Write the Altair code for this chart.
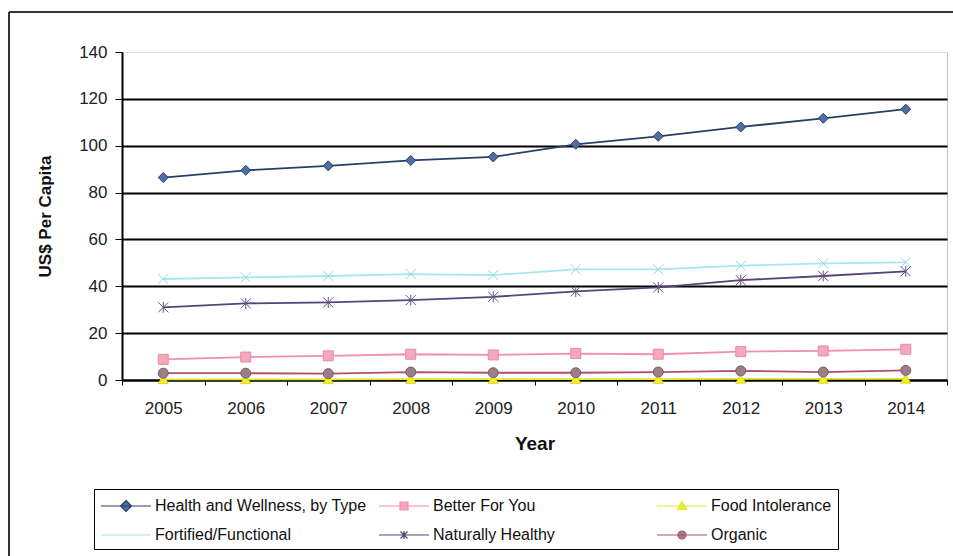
import altair as alt
import pandas as pd

years = ["2005", "2006", "2007", "2008", "2009", "2010", "2011", "2012", "2013", "2014"]
series = ["Health and Wellness, by Type", "Better For You", "Food Intolerance",
          "Fortified/Functional", "Naturally Healthy", "Organic"]

health = [86.4, 89.5, 91.4, 93.7, 95.2, 100.6, 104.0, 108.0, 111.7, 115.6]
better = [8.8, 9.8, 10.3, 11.0, 10.7, 11.3, 11.0, 12.1, 12.4, 13.1]
food_int = [0.3, 0.3, 0.3, 0.4, 0.4, 0.4, 0.4, 0.5, 0.5, 0.5]
fortified = [43.1, 43.8, 44.4, 45.2, 44.8, 47.2, 47.2, 48.8, 49.8, 50.2]
naturally = [31.0, 32.7, 33.1, 34.1, 35.5, 37.8, 39.5, 42.6, 44.4, 46.4]
organic = [2.9, 2.9, 2.7, 3.4, 3.1, 3.1, 3.4, 3.9, 3.4, 4.1]

values = [health, better, food_int, fortified, naturally, organic]

line_colors = ["#2a3d68", "#f28db3", "#e8e327", "#a8e6f0", "#56447a", "#b04f68"]
marker_fill = ["#4d6fa3", "#f5a8ba", "#f3ef2e", "#9fe0ec", "#8c6f9e", "#9c7e86"]
marker_stroke = ["#2a3d68", "#e98aa6", "#e0d820", "#8fd6e4", "#6a4f84", "#7a5a68"]
marker_shapes = ["diamond", "square", "triangle-up",
                 "M-1,-1L1,1M1,-1L-1,1",
                 "M-1,-1L1,1M1,-1L-1,1M0,-1.1V1.1",
                 "circle"]
legend_paths = [
    "M-1,0H4M1.5,-0.55L2.05,0L1.5,0.55L0.95,0Z",
    "M-1,0H4M1.1,-0.4H1.9V0.4H1.1Z",
    "M-1,0H4M1.5,-0.45L1.95,0.35H1.05Z",
    "M-1,0H4",
    "M-1,0H4M1.15,-0.35L1.85,0.35M1.85,-0.35L1.15,0.35M1.5,-0.4V0.4",
    "M-1,0H4M1.1,0A0.4,0.4 0 1,0 1.9,0A0.4,0.4 0 1,0 1.1,0Z",
]

rows = []
for s, vals in zip(series, values):
    for y, v in zip(years, vals):
        rows.append({"Year": y, "Series": s, "Value": v})
df = pd.DataFrame(rows)

FONT = "Liberation Sans"

x_enc = alt.X(
    "Year:O",
    bandPosition=0.5,
    scale=alt.Scale(type="band", paddingInner=0, paddingOuter=0),
    axis=alt.Axis(
        title="Year", tickBand="extent", labelAngle=0, labelFontSize=17,
        labelFont=FONT, labelColor="#222", labelPadding=15, tickSize=5,
        tickColor="black", domainColor="black", domainWidth=2,
        titleFont=FONT, titleFontSize=19, titleFontWeight="bold",
        titleColor="#111", titleY=54, titleBaseline="top", grid=False,
    ),
)
y_enc = alt.Y(
    "Value:Q",
    scale=alt.Scale(domain=[0, 140], nice=False),
    axis=alt.Axis(
        title="US$ Per Capita", values=[0, 20, 40, 60, 80, 100, 120, 140],
        labelFontSize=17, labelFont=FONT, labelColor="#222", labelPadding=8,
        tickSize=7, tickColor="black", domainColor="black", domainWidth=2,
        gridColor={"condition": {"test": "datum.value === 140", "value": "#e0e0e0"}, "value": "black"},
        gridWidth={"condition": {"test": "datum.value === 140", "value": 1}, "value": 2},
        titleFont=FONT, titleFontSize=17, titleFontWeight="bold", titleColor="#111",
        titleX=-77, titleY=164, titleAngle=-90, titleAlign="center", titleBaseline="middle",
    ),
)

lines = alt.Chart(df).mark_line(strokeWidth=1.8).encode(
    x=x_enc, y=y_enc,
    color=alt.Color("Series:N", scale=alt.Scale(domain=series, range=line_colors), legend=None),
)

points = alt.Chart(df).mark_point(filled=True, size=100, strokeWidth=1, opacity=1).encode(
    x=x_enc, y=y_enc,
    shape=alt.Shape("Series:N", scale=alt.Scale(domain=series, range=marker_shapes), legend=None),
    fill=alt.Fill("Series:N", scale=alt.Scale(domain=series, range=marker_fill), legend=None),
    stroke=alt.Stroke("Series:N", scale=alt.Scale(domain=series, range=marker_stroke), legend=None),
)

leg = alt.Legend(
    title=None, orient="none", direction="horizontal", legendX=-28, legendY=437, columns=3,
    gridAlign="all", columnPadding=9, rowPadding=10, padding=6,
    strokeColor="black", labelFont=FONT, labelFontSize=16, labelColor="#111",
    labelOffset=33, labelLimit=400, symbolSize=400, symbolStrokeWidth=1.2,
    symbolOpacity=1,
)

legend_layer = alt.Chart(df).mark_point(opacity=0, size=400, filled=True, strokeWidth=1.2).encode(
    x=x_enc, y=y_enc,
    shape=alt.Shape("Series:N", scale=alt.Scale(domain=series, range=legend_paths), legend=leg),
    fill=alt.Fill("Series:N", scale=alt.Scale(domain=series, range=marker_fill), legend=leg),
    stroke=alt.Stroke("Series:N", scale=alt.Scale(domain=series, range=line_colors), legend=leg),
)

frame_df = pd.DataFrame({"k": [0]})
frame_top = alt.Chart(frame_df).mark_rule(color="#333", strokeWidth=2).encode(
    x=alt.value(-113), x2=alt.value(831), y=alt.value(-40)
)
frame_left = alt.Chart(frame_df).mark_rule(color="#333", strokeWidth=2).encode(
    x=alt.value(-113), y=alt.value(-40), y2=alt.value(504)
)

chart = alt.layer(lines, points, legend_layer, frame_top, frame_left).resolve_scale(
    shape="independent", stroke="independent", fill="independent"
).properties(
    width=825, height=328,
    autosize=alt.AutoSizeParams(type="none"),
    padding={"left": 122, "top": 52, "right": 6, "bottom": 176},
    background="white",
).configure_view(stroke="#c8c8c8", strokeWidth=1)

chart.save("out.html", embed_options={"renderer": "svg", "actions": False})
